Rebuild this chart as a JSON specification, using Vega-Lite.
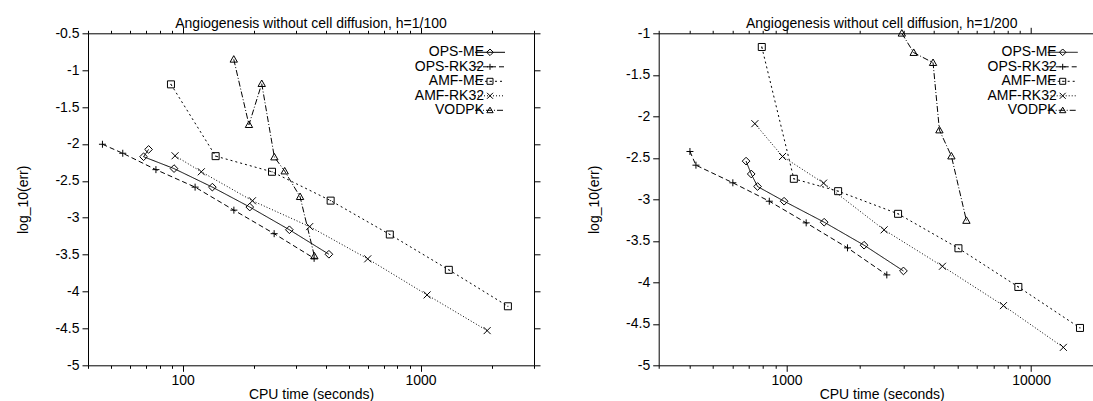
{
  "$schema": "https://vega.github.io/schema/vega-lite/v6.json",
  "padding": {"left": 16, "top": 16.3, "right": 0, "bottom": 0},
  "config": {
    "font": "Liberation Sans",
    "view": {"stroke": null},
    "axis": {"labelFont": "Liberation Sans", "labelFontSize": 14, "labelColor": "black", "titleFont": "Liberation Sans", "titleFontSize": 14, "titleFontWeight": "normal", "titleColor": "black", "domainColor": "black", "tickColor": "black", "grid": false},
    "legend": {"labelFont": "Liberation Sans", "labelFontSize": 14, "labelColor": "black"},
    "title": {"font": "Liberation Sans", "fontSize": 14, "fontWeight": "normal", "color": "black"}
  },
  "datasets": {
    "left": [
      {"series": "OPS-ME", "i": 0, "cpu": 71.9, "logerr": -2.074},
      {"series": "OPS-ME", "i": 1, "cpu": 68.5, "logerr": -2.173},
      {"series": "OPS-ME", "i": 2, "cpu": 92.0, "logerr": -2.334},
      {"series": "OPS-ME", "i": 3, "cpu": 133.3, "logerr": -2.585},
      {"series": "OPS-ME", "i": 4, "cpu": 191.5, "logerr": -2.855},
      {"series": "OPS-ME", "i": 5, "cpu": 281, "logerr": -3.163},
      {"series": "OPS-ME", "i": 6, "cpu": 412, "logerr": -3.495},
      {"series": "OPS-RK32", "i": 0, "cpu": 46.0, "logerr": -2.004},
      {"series": "OPS-RK32", "i": 1, "cpu": 56.0, "logerr": -2.126},
      {"series": "OPS-RK32", "i": 2, "cpu": 77.2, "logerr": -2.348},
      {"series": "OPS-RK32", "i": 3, "cpu": 112.8, "logerr": -2.585},
      {"series": "OPS-RK32", "i": 4, "cpu": 164.2, "logerr": -2.897},
      {"series": "OPS-RK32", "i": 5, "cpu": 242.5, "logerr": -3.216},
      {"series": "OPS-RK32", "i": 6, "cpu": 357, "logerr": -3.55},
      {"series": "AMF-ME", "i": 0, "cpu": 89.3, "logerr": -1.192},
      {"series": "AMF-ME", "i": 1, "cpu": 137.6, "logerr": -2.165},
      {"series": "AMF-ME", "i": 2, "cpu": 237.5, "logerr": -2.377},
      {"series": "AMF-ME", "i": 3, "cpu": 419, "logerr": -2.768},
      {"series": "AMF-ME", "i": 4, "cpu": 743, "logerr": -3.227},
      {"series": "AMF-ME", "i": 5, "cpu": 1315, "logerr": -3.706},
      {"series": "AMF-ME", "i": 6, "cpu": 2330, "logerr": -4.2},
      {"series": "AMF-RK32", "i": 0, "cpu": 92.9, "logerr": -2.16},
      {"series": "AMF-RK32", "i": 1, "cpu": 119.8, "logerr": -2.377},
      {"series": "AMF-RK32", "i": 2, "cpu": 196.5, "logerr": -2.77},
      {"series": "AMF-RK32", "i": 3, "cpu": 342, "logerr": -3.12},
      {"series": "AMF-RK32", "i": 4, "cpu": 600, "logerr": -3.557},
      {"series": "AMF-RK32", "i": 5, "cpu": 1066, "logerr": -4.046},
      {"series": "AMF-RK32", "i": 6, "cpu": 1906, "logerr": -4.53},
      {"series": "VODPK", "i": 0, "cpu": 164, "logerr": -0.853},
      {"series": "VODPK", "i": 1, "cpu": 190, "logerr": -1.739},
      {"series": "VODPK", "i": 2, "cpu": 215, "logerr": -1.183},
      {"series": "VODPK", "i": 3, "cpu": 243, "logerr": -2.178},
      {"series": "VODPK", "i": 4, "cpu": 268.5, "logerr": -2.368},
      {"series": "VODPK", "i": 5, "cpu": 311.6, "logerr": -2.715},
      {"series": "VODPK", "i": 6, "cpu": 358, "logerr": -3.52}
    ],
    "right": [
      {"series": "OPS-ME", "i": 0, "cpu": 683, "logerr": -2.54},
      {"series": "OPS-ME", "i": 1, "cpu": 717, "logerr": -2.695},
      {"series": "OPS-ME", "i": 2, "cpu": 761, "logerr": -2.846},
      {"series": "OPS-ME", "i": 3, "cpu": 977, "logerr": -3.023},
      {"series": "OPS-ME", "i": 4, "cpu": 1425, "logerr": -3.276},
      {"series": "OPS-ME", "i": 5, "cpu": 2075, "logerr": -3.553},
      {"series": "OPS-ME", "i": 6, "cpu": 3006, "logerr": -3.863},
      {"series": "OPS-RK32", "i": 0, "cpu": 402.6, "logerr": -2.424},
      {"series": "OPS-RK32", "i": 1, "cpu": 426, "logerr": -2.589},
      {"series": "OPS-RK32", "i": 2, "cpu": 603, "logerr": -2.801},
      {"series": "OPS-RK32", "i": 3, "cpu": 850, "logerr": -3.023},
      {"series": "OPS-RK32", "i": 4, "cpu": 1203, "logerr": -3.284},
      {"series": "OPS-RK32", "i": 5, "cpu": 1775, "logerr": -3.585},
      {"series": "OPS-RK32", "i": 6, "cpu": 2570, "logerr": -3.911},
      {"series": "AMF-ME", "i": 0, "cpu": 792, "logerr": -1.165},
      {"series": "AMF-ME", "i": 1, "cpu": 1071, "logerr": -2.753},
      {"series": "AMF-ME", "i": 2, "cpu": 1625, "logerr": -2.902},
      {"series": "AMF-ME", "i": 3, "cpu": 2858, "logerr": -3.175},
      {"series": "AMF-ME", "i": 4, "cpu": 5045, "logerr": -3.59},
      {"series": "AMF-ME", "i": 5, "cpu": 8870, "logerr": -4.056},
      {"series": "AMF-ME", "i": 6, "cpu": 15850, "logerr": -4.55},
      {"series": "AMF-RK32", "i": 0, "cpu": 742, "logerr": -2.089},
      {"series": "AMF-RK32", "i": 1, "cpu": 963, "logerr": -2.484},
      {"series": "AMF-RK32", "i": 2, "cpu": 1417, "logerr": -2.805},
      {"series": "AMF-RK32", "i": 3, "cpu": 2506, "logerr": -3.368},
      {"series": "AMF-RK32", "i": 4, "cpu": 4340, "logerr": -3.807},
      {"series": "AMF-RK32", "i": 5, "cpu": 7710, "logerr": -4.281},
      {"series": "AMF-RK32", "i": 6, "cpu": 13550, "logerr": -4.784},
      {"series": "VODPK", "i": 0, "cpu": 2960, "logerr": -1.0},
      {"series": "VODPK", "i": 1, "cpu": 3311, "logerr": -1.233},
      {"series": "VODPK", "i": 2, "cpu": 3973, "logerr": -1.354},
      {"series": "VODPK", "i": 3, "cpu": 4218, "logerr": -2.166},
      {"series": "VODPK", "i": 4, "cpu": 4722, "logerr": -2.48},
      {"series": "VODPK", "i": 5, "cpu": 5439, "logerr": -3.256}
    ]
  },
  "resolve": {"scale": {"shape": "independent", "strokeDash": "independent"}, "legend": {"shape": "independent", "strokeDash": "independent"}},
  "spacing": 45.7,
  "hconcat": [
    {
      "width": 446, "height": 332,
      "title": {"text": "Angiogenesis without cell diffusion, h=1/100", "anchor": "middle", "frame": "group", "offset": 0, "dy": 4.3},
      "data": {"name": "left"},
      "resolve": {"axis": {"x": "independent", "y": "independent"}},
      "layer": [
        {
          "mark": {"type": "line", "color": "black", "strokeWidth": 1},
          "encoding": {
            "x": {"field": "cpu", "type": "quantitative", "scale": {"type": "log", "domain": [40, 3000], "nice": false},
              "axis": {"orient": "bottom", "title": "CPU time (seconds)", "values": [40, 50, 60, 70, 80, 90, 100, 200, 300, 400, 500, 600, 700, 800, 900, 1000, 2000, 3000],
                "tickSize": {"condition": {"test": "datum.value == 100 || datum.value == 1000", "value": 6}, "value": 3},
                "labelExpr": "datum.value == 100 || datum.value == 1000 ? format(datum.value, 'd') : ''",
                "labelPadding": 2, "titlePadding": 0, "labelFlush": false, "labelOverlap": false}},
            "y": {"field": "logerr", "type": "quantitative", "scale": {"domain": [-5, -0.5], "nice": false, "zero": false},
              "axis": {"orient": "left", "title": "log_10(err)", "values": [-5, -4.5, -4, -3.5, -3, -2.5, -2, -1.5, -1, -0.5], "tickSize": 6,
                "labelExpr": "(datum.value < 0 ? '-' : '') + format(abs(datum.value), '')", "labelPadding": 3, "titlePadding": 24.5, "labelFlush": false, "labelOverlap": false}},
            "strokeDash": {"field": "series", "type": "nominal", "sort": ["OPS-ME", "OPS-RK32", "AMF-ME", "AMF-RK32", "VODPK"],
              "scale": {"range": [[1, 0], [5, 3], [2, 3], [1, 2], [6, 2, 1, 2]]},
              "legend": {"orient": "none", "legendX": 379, "legendY": 12, "title": null, "padding": 0, "symbolType": "M-5,0H5", "symbolSize": 36, "symbolStrokeColor": "black", "symbolStrokeWidth": 1, "symbolOffset": 16, "labelAlign": "right", "labelOffset": -13, "rowPadding": 0.5}},
            "order": {"field": "i", "type": "quantitative"}
          }
        },
        {
          "mark": {"type": "point", "filled": false, "color": "black", "size": 49, "strokeWidth": 1, "opacity": 1},
          "encoding": {
            "x": {"field": "cpu", "type": "quantitative",
              "axis": {"orient": "top", "title": null, "labels": false, "values": [40, 50, 60, 70, 80, 90, 100, 200, 300, 400, 500, 600, 700, 800, 900, 1000, 2000, 3000],
                "tickSize": {"condition": {"test": "datum.value == 100 || datum.value == 1000", "value": 6}, "value": 3}}},
            "y": {"field": "logerr", "type": "quantitative",
              "axis": {"orient": "right", "title": null, "labels": false, "values": [-5, -4.5, -4, -3.5, -3, -2.5, -2, -1.5, -1, -0.5], "tickSize": 6}},
            "shape": {"field": "series", "type": "nominal",
              "scale": {"domain": ["OPS-ME", "OPS-RK32", "AMF-ME", "AMF-RK32", "VODPK"], "range": ["M0,-1.1L1.1,0L0,1.1L-1.1,0Z", "M-1,0H1M0,-1V1", "M-1,-1H1V1H-1ZM-0.15,0H0.15", "M-1,-1L1,1M-1,1L1,-1", "M0,-1.05L1.05,0.8H-1.05Z"]},
              "legend": {"orient": "none", "legendX": 379, "legendY": 12, "title": null, "padding": 0, "symbolSize": 36, "symbolStrokeColor": "black", "symbolFillColor": "transparent", "symbolStrokeWidth": 1, "symbolOffset": 16, "labelAlign": "right", "labelOffset": -13, "labelColor": "transparent", "rowPadding": 0.5}}
          }
        }
      ]
    },
    {
      "width": 446, "height": 332,
      "title": {"text": "Angiogenesis without cell diffusion, h=1/200", "anchor": "middle", "frame": "group", "offset": 0, "dy": 4.3},
      "data": {"name": "right"},
      "resolve": {"axis": {"x": "independent", "y": "independent"}},
      "layer": [
        {
          "mark": {"type": "line", "color": "black", "strokeWidth": 1},
          "encoding": {
            "x": {"field": "cpu", "type": "quantitative", "scale": {"type": "log", "domain": [300, 20000], "nice": false},
              "axis": {"orient": "bottom", "title": "CPU time (seconds)", "values": [300, 400, 500, 600, 700, 800, 900, 1000, 2000, 3000, 4000, 5000, 6000, 7000, 8000, 9000, 10000, 20000],
                "tickSize": {"condition": {"test": "datum.value == 1000 || datum.value == 10000", "value": 6}, "value": 3},
                "labelExpr": "datum.value == 1000 || datum.value == 10000 ? format(datum.value, 'd') : ''",
                "labelPadding": 2, "titlePadding": 0, "labelFlush": false, "labelOverlap": false}},
            "y": {"field": "logerr", "type": "quantitative", "scale": {"domain": [-5, -1], "nice": false, "zero": false},
              "axis": {"orient": "left", "title": "log_10(err)", "values": [-5, -4.5, -4, -3.5, -3, -2.5, -2, -1.5, -1], "tickSize": 6,
                "labelExpr": "(datum.value < 0 ? '-' : '') + format(abs(datum.value), '')", "labelPadding": 3, "titlePadding": 24.5, "labelFlush": false, "labelOverlap": false}},
            "strokeDash": {"field": "series", "type": "nominal", "sort": ["OPS-ME", "OPS-RK32", "AMF-ME", "AMF-RK32", "VODPK"],
              "scale": {"range": [[1, 0], [5, 3], [2, 3], [1, 2], [6, 2, 1, 2]]},
              "legend": {"orient": "none", "legendX": 381, "legendY": 12, "title": null, "padding": 0, "symbolType": "M-5,0H5", "symbolSize": 36, "symbolStrokeColor": "black", "symbolStrokeWidth": 1, "symbolOffset": 16, "labelAlign": "right", "labelOffset": -13, "rowPadding": 0.5}},
            "order": {"field": "i", "type": "quantitative"}
          }
        },
        {
          "mark": {"type": "point", "filled": false, "color": "black", "size": 49, "strokeWidth": 1, "opacity": 1},
          "encoding": {
            "x": {"field": "cpu", "type": "quantitative",
              "axis": {"orient": "top", "title": null, "labels": false, "values": [300, 400, 500, 600, 700, 800, 900, 1000, 2000, 3000, 4000, 5000, 6000, 7000, 8000, 9000, 10000, 20000],
                "tickSize": {"condition": {"test": "datum.value == 1000 || datum.value == 10000", "value": 6}, "value": 3}}},
            "y": {"field": "logerr", "type": "quantitative",
              "axis": {"orient": "right", "title": null, "labels": false, "values": [-5, -4.5, -4, -3.5, -3, -2.5, -2, -1.5, -1], "tickSize": 6}},
            "shape": {"field": "series", "type": "nominal",
              "scale": {"domain": ["OPS-ME", "OPS-RK32", "AMF-ME", "AMF-RK32", "VODPK"], "range": ["M0,-1.1L1.1,0L0,1.1L-1.1,0Z", "M-1,0H1M0,-1V1", "M-1,-1H1V1H-1ZM-0.15,0H0.15", "M-1,-1L1,1M-1,1L1,-1", "M0,-1.05L1.05,0.8H-1.05Z"]},
              "legend": {"orient": "none", "legendX": 381, "legendY": 12, "title": null, "padding": 0, "symbolSize": 36, "symbolStrokeColor": "black", "symbolFillColor": "transparent", "symbolStrokeWidth": 1, "symbolOffset": 16, "labelAlign": "right", "labelOffset": -13, "labelColor": "transparent", "rowPadding": 0.5}}
          }
        }
      ]
    }
  ]
}
